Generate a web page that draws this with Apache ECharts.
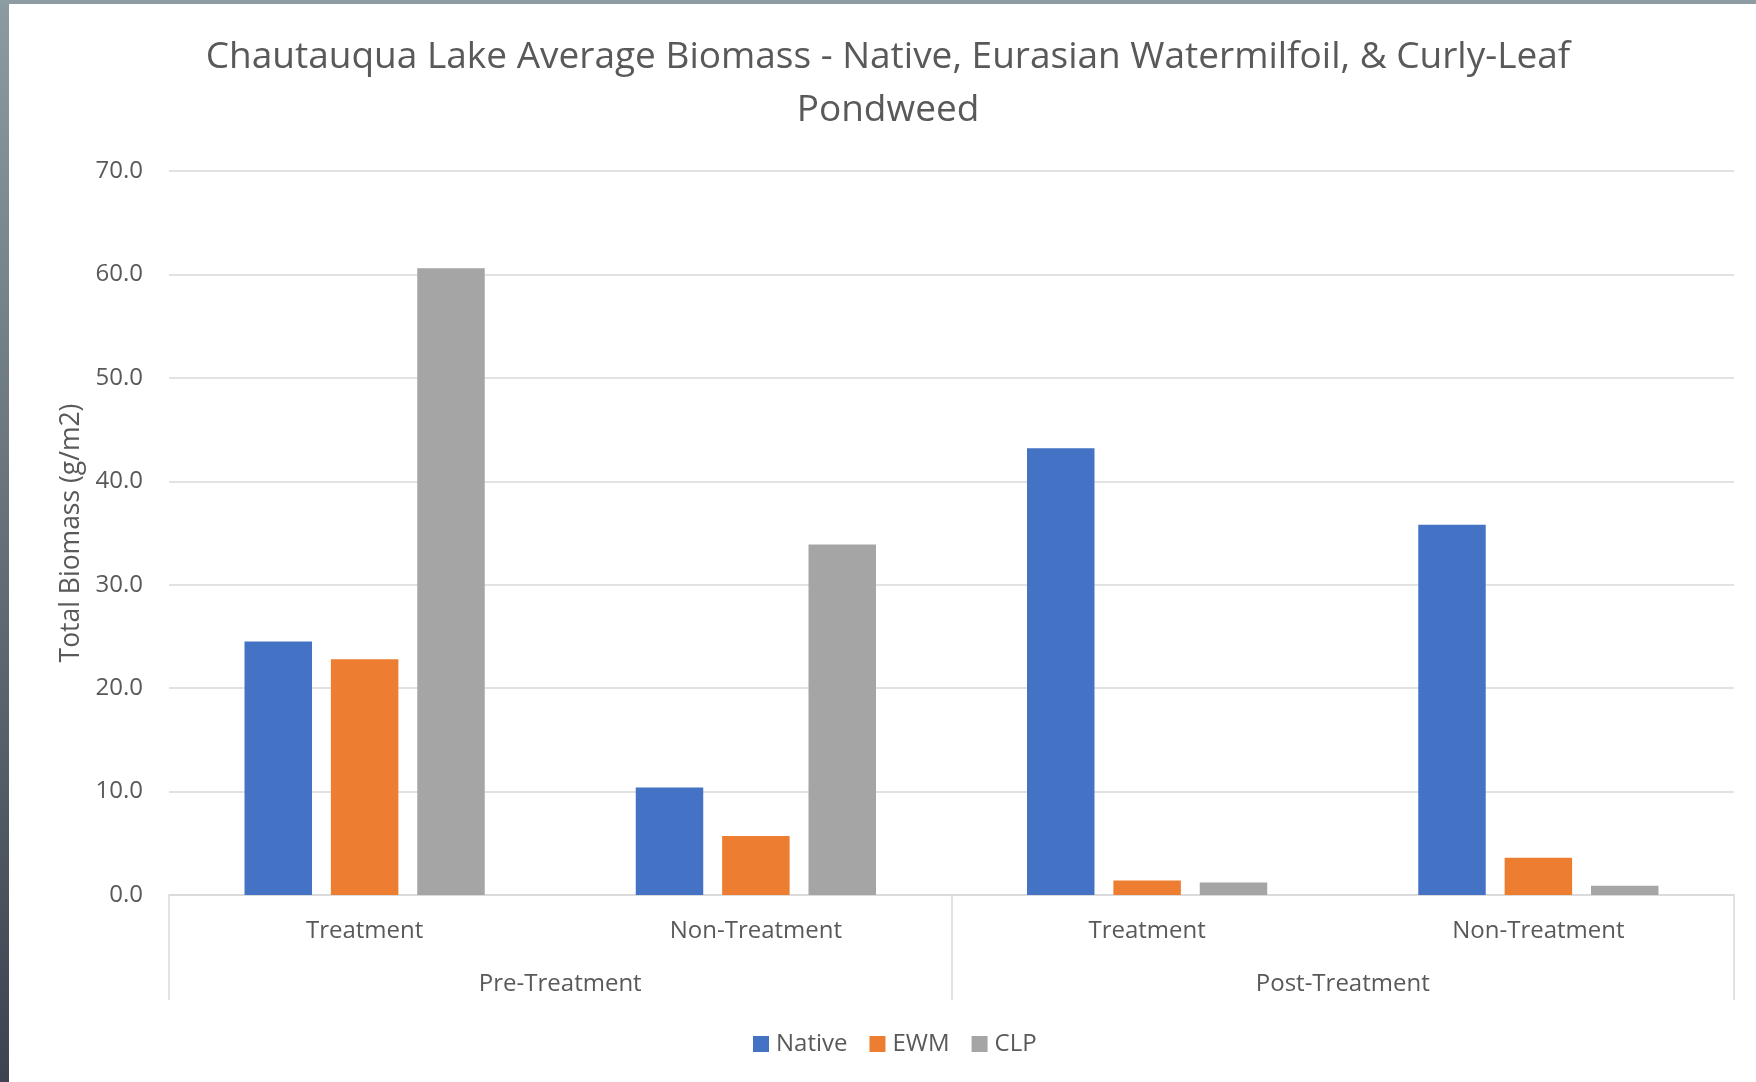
<!DOCTYPE html>
<html>
<head>
<meta charset="utf-8">
<script src="https://cdn.jsdelivr.net/npm/echarts@6/dist/echarts.min.js"></script>
<style>
  html, body { margin: 0; padding: 0; background: #fff; }
  #main { position: absolute; left: 0; top: 0; width: 1756px; height: 1082px; }
  /* screenshot frame on left / top edge */
  .edgeL { position: absolute; left: 0; top: 0; width: 9px; height: 1082px;
           background: linear-gradient(#8c9ba1, #3d4350); }
  .edgeT { position: absolute; left: 0; top: 0; width: 1756px; height: 4px; background: #8e9da3; }
</style>
</head>
<body>
<div id="main"></div>
<div class="edgeL"></div>
<div class="edgeT"></div>
<script>
// 数据
var groups = ['Pre-Treatment', 'Post-Treatment'];
var categories = ['Treatment', 'Non-Treatment', 'Treatment', 'Non-Treatment'];
var nativeVals = [24.5, 10.4, 43.2, 35.8];
var ewmVals = [22.8, 5.7, 1.4, 3.6];
var clpVals = [60.6, 33.9, 1.2, 0.9];
var yTicks = [0, 70, 10]; // min, max, interval

var txt = '#595959';
var gridCol = '#d9d9d9';
var font = '"Open Sans", "Noto Sans", sans-serif';

var myChart = echarts.init(document.getElementById('main'));
myChart.setOption({
  backgroundColor: '#fff',
  textStyle: { fontFamily: font },
  title: {
    text: 'Chautauqua Lake Average Biomass - Native, Eurasian Watermilfoil, & Curly-Leaf\nPondweed',
    left: 888,
    textAlign: 'center',
    top: 31,
    padding: 0,
    textStyle: { color: txt, fontSize: 37, fontWeight: 'normal', lineHeight: 53, fontFamily: font }
  },
  legend: {
    bottom: 21,
    left: 748,
    itemWidth: 16,
    itemHeight: 16,
    itemGap: 22,
    icon: 'rect',
    textStyle: { color: txt, fontSize: 24, fontFamily: font, padding: [0, 0, 0, 2] },
    data: ['Native', 'EWM', 'CLP']
  },
  color: ['#4472C4', '#ED7D31', '#A5A5A5'],
  grid: { left: 169, right: 22, top: 171, bottom: 187 },
  xAxis: [
    {
      type: 'category',
      data: categories,
      position: 'bottom',
      axisLine: { show: true, lineStyle: { color: gridCol, width: 1.5 } },
      axisTick: { show: false },
      axisLabel: { color: txt, fontSize: 24, margin: 24, interval: 0 }
    },
    {
      type: 'category',
      data: groups,
      position: 'bottom',
      offset: 0,
      axisLine: { show: false },
      axisTick: { show: true, length: 105, interval: 0, lineStyle: { color: gridCol, width: 1.5 } },
      axisLabel: { color: txt, fontSize: 24, margin: 77, interval: 0 }
    }
  ],
  yAxis: {
    type: 'value',
    min: yTicks[0],
    max: yTicks[1],
    interval: yTicks[2],
    name: 'Total Biomass (g/m2)',
    nameLocation: 'middle',
    nameRotate: 90,
    nameGap: 84,
    nameTextStyle: { color: txt, fontSize: 26.5 },
    axisLine: { show: false },
    axisTick: { show: false },
    axisLabel: { color: txt, fontSize: 24, margin: 26, formatter: function (v) { return v.toFixed(1); } },
    splitLine: { lineStyle: { color: gridCol, width: 1.5 } }
  },
  series: [
    { name: 'Native', type: 'bar', data: nativeVals, barGap: '28%', barCategoryGap: '38.6%' },
    { name: 'EWM', type: 'bar', data: ewmVals, barGap: '28%', barCategoryGap: '38.6%' },
    { name: 'CLP', type: 'bar', data: clpVals, barGap: '28%', barCategoryGap: '38.6%' }
  ]
});
</script>
</body>
</html>
